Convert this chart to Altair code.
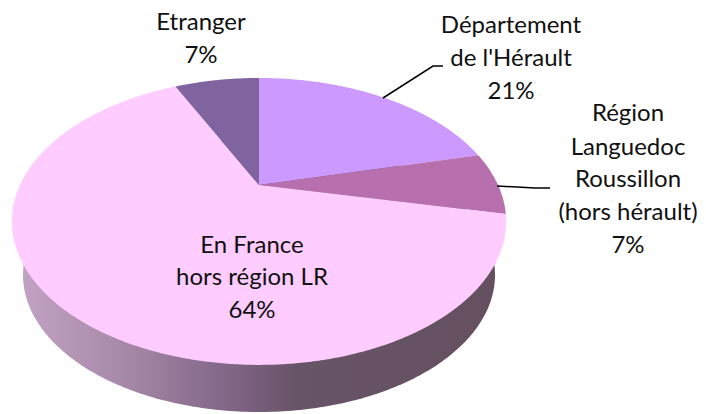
import numpy as np
import pandas as pd
import altair as alt

# Data
categories = ["Département de l'Hérault", "Région Languedoc Roussillon", "En France hors région LR", "Etranger"]
shares = [21, 7, 64, 7]
colors = ["#CC99FF", "#B86FAD", "#FFCCFF", "#7F649F"]

label_lines = ["Etranger", "7%",
               "Département", "de l'Hérault", "21%",
               "Région", "Languedoc", "Roussillon", "(hors hérault)", "7%",
               "En France", "hors région LR", "64%"]
label_x = [201, 201, 511, 511, 511, 628, 628, 628, 628, 628, 252, 252, 252]
label_y = [23, 56, 26, 59, 92, 114, 148, 180, 213, 246, 246, 278, 311]

leader_x = [[383, 433, 443], [497, 535, 550]]
leader_y = [[98, 66, 66], [186, 188, 188]]

# Perspective of the tilted disc
APEX_X, APEX_Y = 259, 185
A, B, K = 239.0, 134.2, 0.254
WALL_CX, WALL_CY, WALL_RX, WALL_RY = 259, 275, 236, 137

X = alt.X("x:Q", axis=None, scale=alt.Scale(domain=[8, 698]))
Y = alt.Y("y:Q", axis=None, scale=alt.Scale(domain=[414, 8]))


def rim(t):
    w = 1 + K * np.cos(t)
    return APEX_X + A * np.sin(t) / w, APEX_Y - B * np.cos(t) / w


def polygon(xs, ys):
    return pd.DataFrame({"x": xs, "y": ys, "i": np.arange(len(xs))})


def shape(df, fill):
    return alt.Chart(df).mark_line(
        interpolate="linear-closed", fill=fill, stroke=None, strokeWidth=0
    ).encode(x=X, y=Y, order=alt.Order("i:Q"))


wall_t = np.linspace(0, 2 * np.pi, 361)
wall_gradient = alt.LinearGradient(
    gradient="linear", x1=0, x2=1, y1=0, y2=0,
    stops=[
        alt.GradientStop(offset=0.0, color="#C2A2C4"),
        alt.GradientStop(offset=0.2, color="#A98AAA"),
        alt.GradientStop(offset=0.42, color="#84688A"),
        alt.GradientStop(offset=0.58, color="#675467"),
        alt.GradientStop(offset=1.0, color="#64505F"),
    ],
)
layers = [shape(polygon(WALL_CX + WALL_RX * np.sin(wall_t), WALL_CY - WALL_RY * np.cos(wall_t)), wall_gradient)]

total = sum(shares)
start = 0.0
for share, color in zip(shares, colors):
    end = start + share / total * 2 * np.pi
    t = np.linspace(start, end, max(int(share * 8), 8))
    rx, ry = rim(t)
    layers.append(shape(polygon(np.r_[APEX_X, rx], np.r_[APEX_Y, ry]), color))
    start = end

for lx, ly in zip(leader_x, leader_y):
    layers.append(
        alt.Chart(polygon(lx, ly)).mark_line(color="black", strokeWidth=1.5).encode(
            x=X, y=Y, order=alt.Order("i:Q"))
    )

labels = pd.DataFrame({"x": label_x, "y": label_y, "t": label_lines})
layers.append(
    alt.Chart(labels).mark_text(font="Lato", fontSize=24, color="#111111", align="center", baseline="middle").encode(
        x=X, y=Y, text="t:N")
)

chart = alt.layer(*layers).properties(width=690, height=406, padding=0).configure_view(stroke=None)
chart.save("out.html", embed_options={"renderer": "svg", "actions": False})
